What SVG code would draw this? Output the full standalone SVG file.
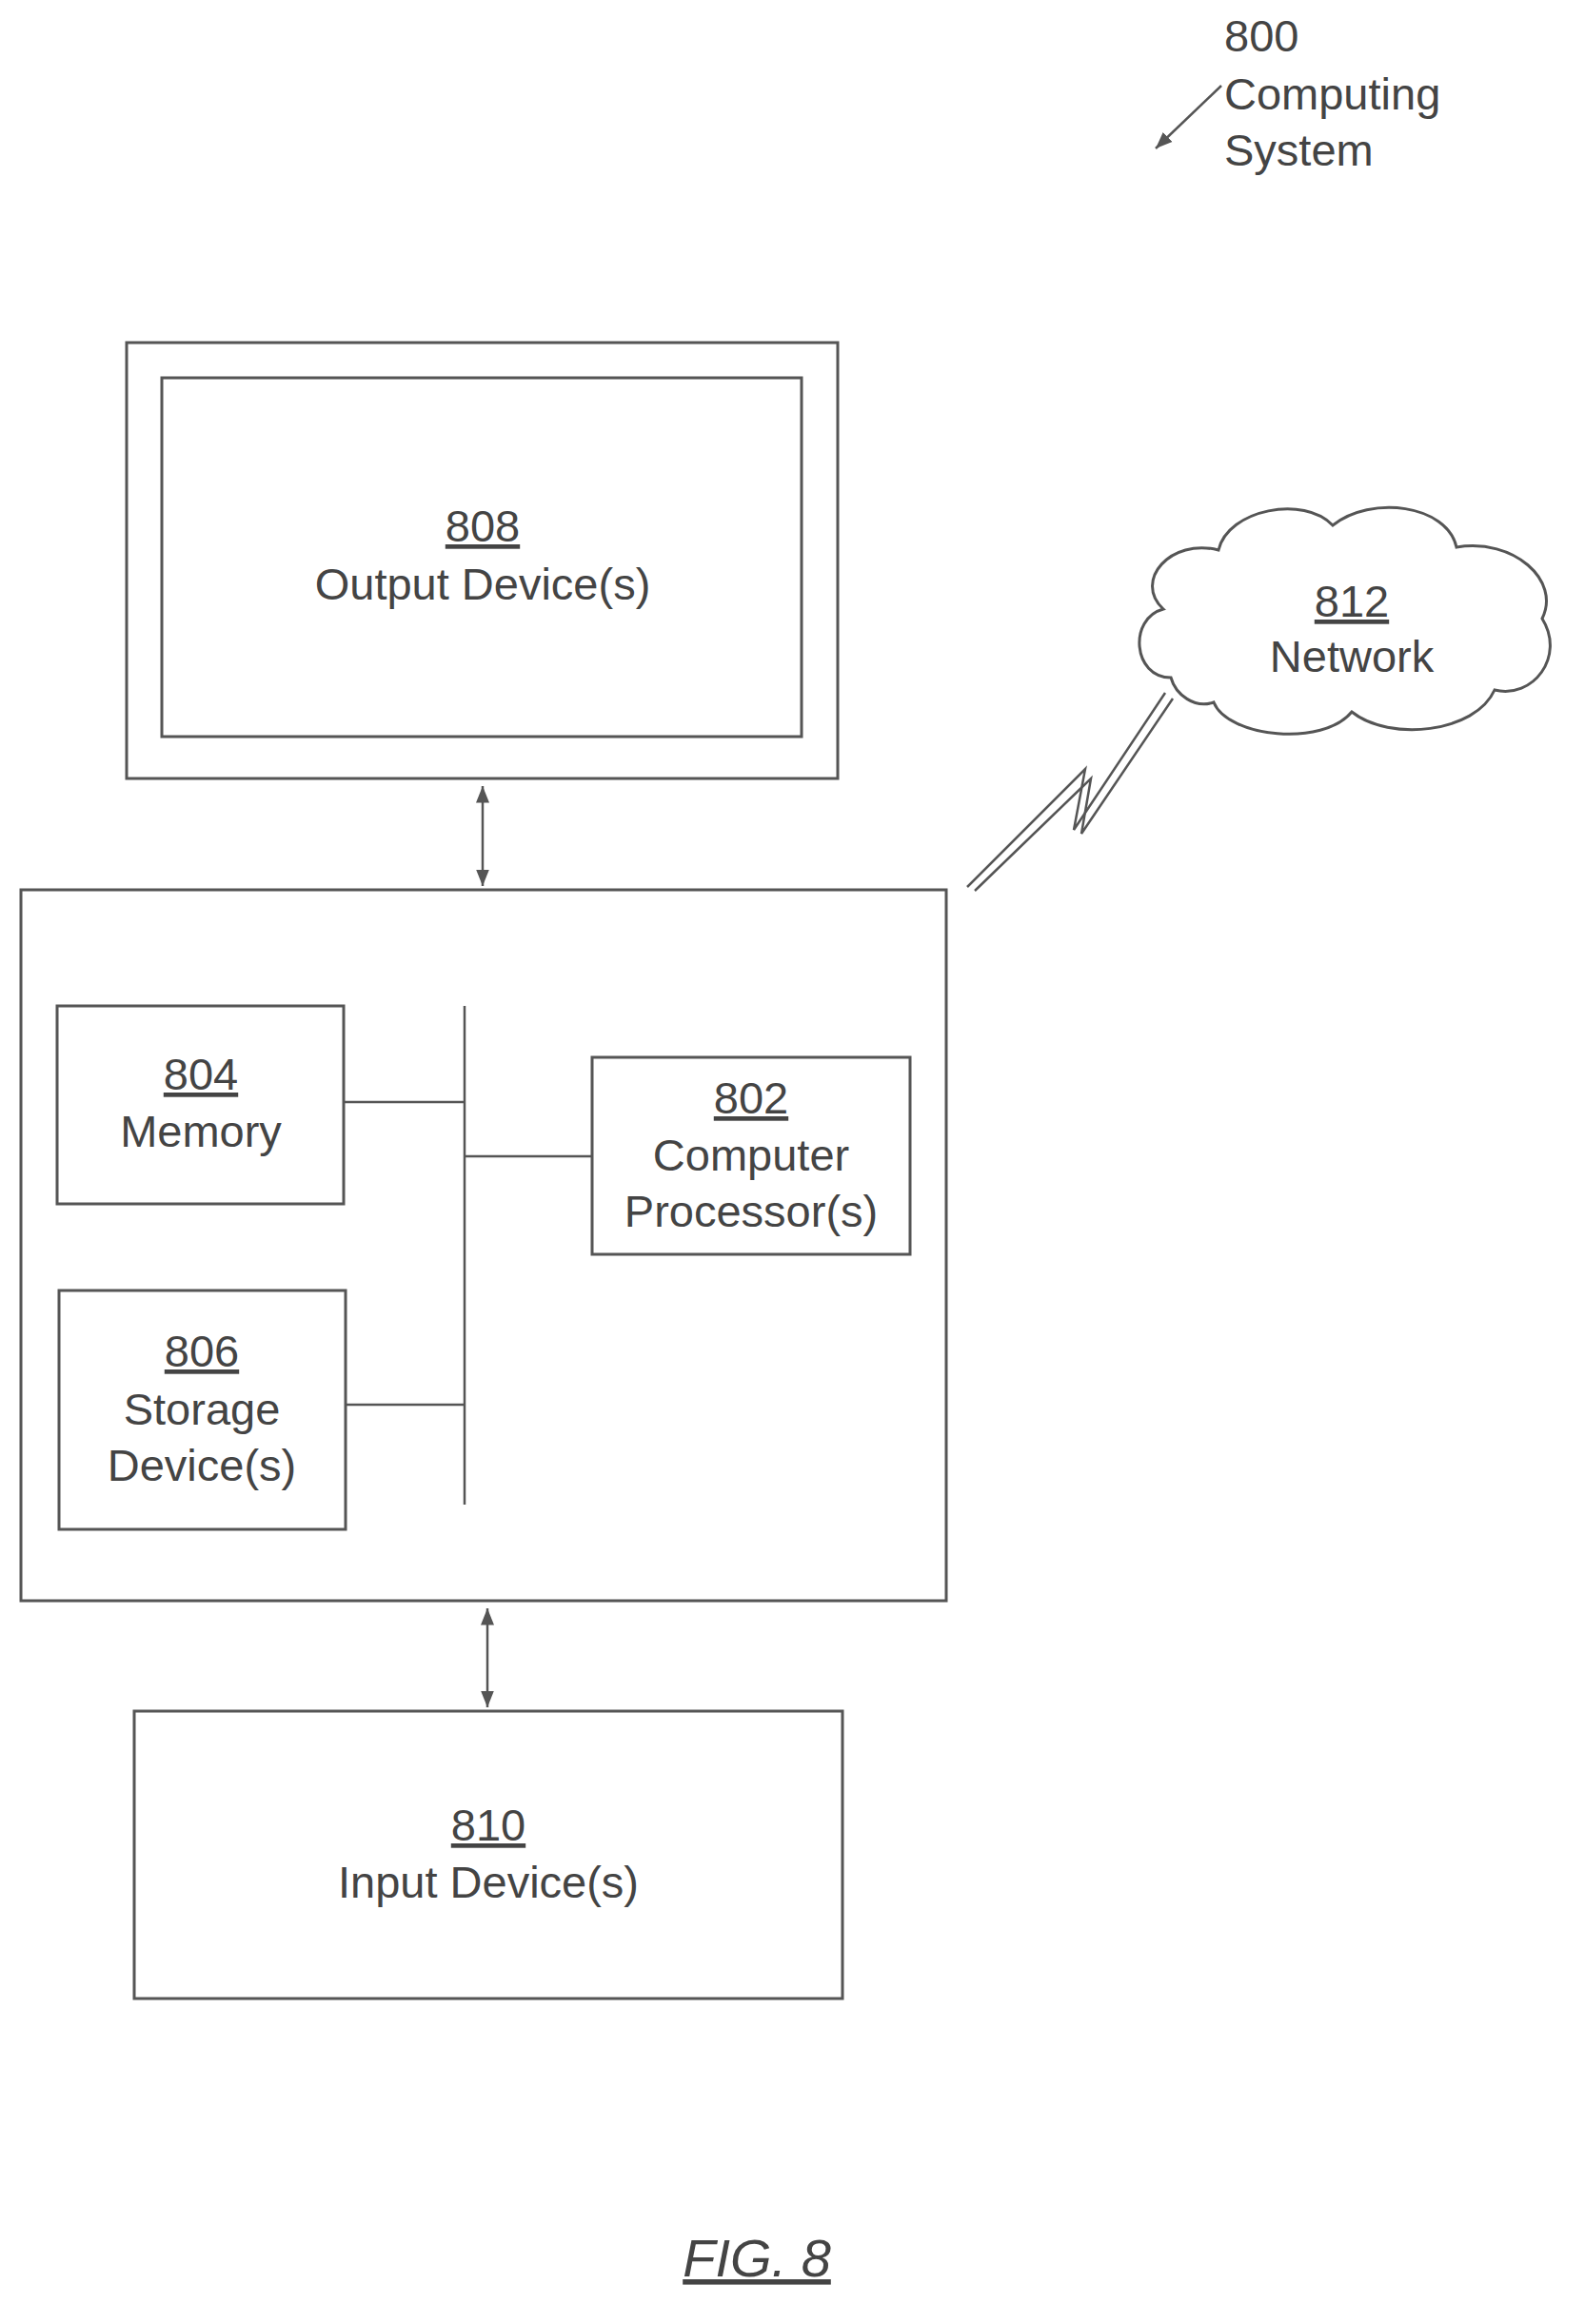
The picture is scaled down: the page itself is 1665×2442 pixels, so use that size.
<svg xmlns="http://www.w3.org/2000/svg" width="1665" height="2442" viewBox="0 0 1665 2442">
<style>
.b{fill:none;stroke:#555;stroke-width:3}
.l{fill:none;stroke:#555;stroke-width:2.5}
text{font-family:"Liberation Sans",Arial,sans-serif;font-size:47px;fill:#444;text-anchor:middle}
.u{text-decoration:underline}
</style>
<defs>
<marker id="a" viewBox="0 0 10 10" refX="10" refY="5" markerWidth="7" markerHeight="7" orient="auto-start-reverse"><path d="M0,1 L10,5 L0,9 Z" fill="#555"/></marker>
</defs>
<rect width="1665" height="2442" fill="#fff"/>
<g id="label800">
<text x="1286" y="54" style="text-anchor:start">800</text>
<text x="1286" y="115" style="text-anchor:start">Computing</text>
<text x="1286" y="174" style="text-anchor:start">System</text>
</g>
<g id="n808">
<rect class="b" x="133" y="360" width="747" height="458"/>
<rect class="b" x="170" y="397" width="672" height="377"/>
<text x="507" y="569" class="u">808</text>
<text x="507" y="630">Output Device(s)</text>
</g>
<g id="n812">
<path class="b" d="M1230,712 C1190,712 1185,650 1222,640 C1190,610 1230,565 1280,578 C1290,535 1370,520 1400,552 C1440,520 1520,530 1530,575 C1590,565 1640,610 1620,650 C1645,690 1610,735 1570,725 C1550,770 1460,780 1420,748 C1390,785 1290,775 1275,738 C1255,745 1235,730 1230,712 Z"/>
<text x="1420" y="648" class="u">812</text>
<text x="1420" y="706">Network</text>
</g>
<g id="n800">
<rect class="b" x="22" y="935" width="972" height="747"/>
</g>
<g id="n804">
<rect class="b" x="60" y="1057" width="301" height="208"/>
<text x="211" y="1145" class="u">804</text>
<text x="211" y="1205">Memory</text>
</g>
<g id="n802">
<rect class="b" x="622" y="1111" width="334" height="207"/>
<text x="789" y="1170" class="u">802</text>
<text x="789" y="1230">Computer</text>
<text x="789" y="1289">Processor(s)</text>
</g>
<g id="n806">
<rect class="b" x="62" y="1356" width="301" height="251"/>
<text x="212" y="1436" class="u">806</text>
<text x="212" y="1497">Storage</text>
<text x="212" y="1556">Device(s)</text>
</g>
<g id="n810">
<rect class="b" x="141" y="1798" width="744" height="302"/>
<text x="513" y="1934" class="u">810</text>
<text x="513" y="1994">Input Device(s)</text>
</g>
<g id="connectors">
<line class="l" x1="488" y1="1057" x2="488" y2="1581"/>
<line class="l" x1="361" y1="1158" x2="488" y2="1158"/>
<line class="l" x1="488" y1="1215" x2="622" y2="1215"/>
<line class="l" x1="363" y1="1476" x2="488" y2="1476"/>
<line class="l" x1="507" y1="826" x2="507" y2="931" marker-start="url(#a)" marker-end="url(#a)"/>
<line class="l" x1="512" y1="1690" x2="512" y2="1794" marker-start="url(#a)" marker-end="url(#a)"/>
<line class="l" x1="1283" y1="90" x2="1214" y2="156" marker-end="url(#a)"/>
<polyline class="l" points="1016,932 1140,808 1128,872 1224,728"/>
<polyline class="l" points="1024,936 1146,818 1136,876 1232,734"/>
</g>
<g id="fig">
<text x="795" y="2392" class="u" style="font-size:56px;font-style:italic">FIG. 8</text>
</g>
</svg>
